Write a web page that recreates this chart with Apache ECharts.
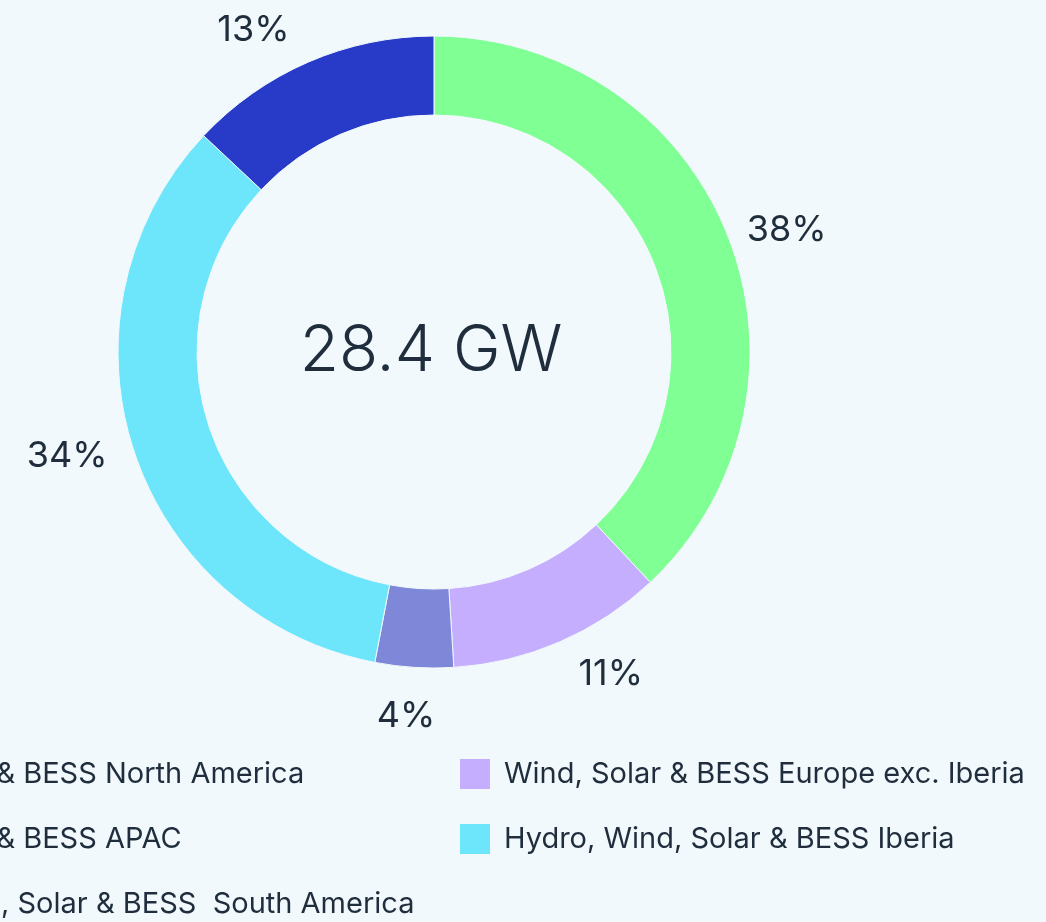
<!DOCTYPE html>
<html>
<head>
<meta charset="utf-8">
<style>
  html, body { margin: 0; padding: 0; background: #f1f9fc; }
  #main { width: 1046px; height: 922px; }
</style>
<script src="https://cdn.jsdelivr.net/npm/echarts@6/dist/echarts.min.js"></script>
</head>
<body>
<div id="main"></div>
<script>
var names = [
    'Wind, Solar & BESS North America',
    'Wind, Solar & BESS Europe exc. Iberia',
    'Wind, Solar & BESS APAC',
    'Hydro, Wind, Solar & BESS Iberia',
    'Hydro, Wind, Solar & BESS  South America'
];
var shares = [38, 11, 4, 34, 13];
var colors = ['#80ff95', '#c5aefe', '#7f88d8', '#6de5fb', '#273bc8'];
var totalText = '28.4 GW';

var font = 'Inter, "Noto Sans", sans-serif';
var ink = '#1f2d3d';
var cx = 434, cy = 352;

// how far each percent label sits out from the ring
var labelReach = [15, 35, 49, 22, 35];

var pieData = names.map(function (n, i) {
    return { name: n, value: shares[i], labelLine: { length: labelReach[i] } };
});

var legendText = { fontFamily: font, fontSize: 29, color: ink, padding: [0, 0, 0, 8] };

var chart = echarts.init(document.getElementById('main'));
chart.setOption({
    backgroundColor: '#f1f9fc',
    color: colors,
    animation: false,
    legend: [
        {
            orient: 'vertical',
            left: -215,
            top: 757,
            height: 200,
            padding: 0,
            itemWidth: 32,
            itemHeight: 32,
            itemGap: 31,
            icon: 'rect',
            data: [names[0], names[2], names[4]],
            textStyle: legendText
        },
        {
            orient: 'vertical',
            left: 458,
            top: 757,
            height: 200,
            padding: 0,
            itemWidth: 32,
            itemHeight: 32,
            itemGap: 31,
            icon: 'rect',
            data: [names[1], names[3]],
            textStyle: legendText
        }
    ],
    graphic: [{
        type: 'text',
        x: cx - 3,
        y: cy,
        style: {
            text: totalText,
            fontFamily: font,
            fontSize: 64,
            fontWeight: 300,
            fill: ink,
            align: 'center',
            verticalAlign: 'middle'
        }
    }],
    series: [
        {
            type: 'pie',
            center: [cx, cy],
            radius: [237, 316],
            startAngle: 90,
            clockwise: true,
            avoidLabelOverlap: false,
            itemStyle: { borderColor: '#f1f9fc', borderWidth: 1 },
            label: {
                show: true,
                position: 'outside',
                formatter: '{c}%',
                fontFamily: font,
                fontSize: 36,
                color: ink
            },
            labelLine: { show: false, length2: 0 },
            // labels that sit almost straight under the ring are centred
            labelLayout: function (p) {
                var r = p.labelRect;
                if (Math.abs(r.x + r.width / 2 - cx) < 100) {
                    return { align: 'center' };
                }
            },
            data: pieData
        }
    ]
});
</script>
</body>
</html>
